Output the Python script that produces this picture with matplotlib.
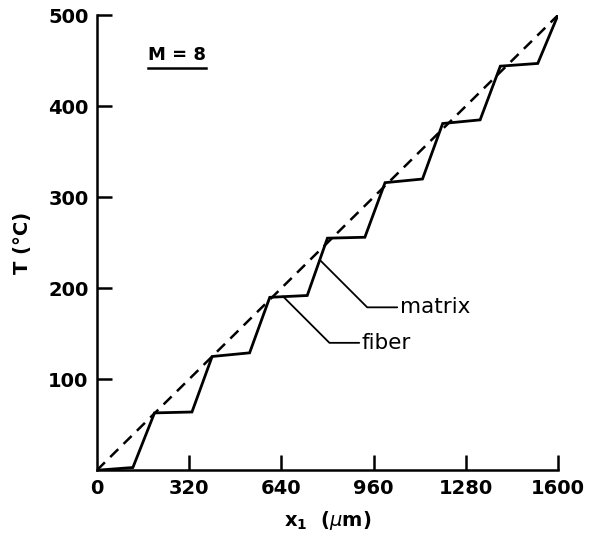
import matplotlib
matplotlib.use("Agg")
import matplotlib.pyplot as plt

# staircase temperature profile, M = 8
x_pos = [0, 125, 200, 330, 400, 530, 600, 730, 800, 930, 1000, 1130, 1200, 1330, 1400, 1530, 1600]
temp = [0, 3, 63, 64, 125, 129, 190, 192, 255, 256, 316, 320, 381, 385, 444, 447, 500]

# linear reference (dashed)
lin_x = [0, 1600]
lin_t = [0, 500]

x_ticks = [0, 320, 640, 960, 1280, 1600]
y_ticks = [100, 200, 300, 400, 500]

plt.rcParams['font.family'] = ['DejaVu Sans']

fig = plt.figure(figsize=(5.98, 5.43), dpi=100)
ax = fig.add_axes([0.162, 0.134, 0.771, 0.838])

ax.plot(lin_x, lin_t, color='black', linewidth=1.8, dashes=(4.5, 3))
ax.plot(x_pos, temp, color='black', linewidth=2.0, solid_joinstyle='miter')

ax.set_xlim(0, 1600)
ax.set_ylim(0, 500)
ax.set_xticks(x_ticks)
ax.set_yticks(y_ticks)
ax.set_xticklabels([str(v) for v in x_ticks])
ax.set_yticklabels([str(v) for v in y_ticks])

for side in ['top', 'right']:
    ax.spines[side].set_visible(False)
for side in ['left', 'bottom']:
    ax.spines[side].set_linewidth(1.8)

ax.tick_params(direction='in', length=11, width=1.8, labelsize=14, pad=6)
ax.xaxis.get_major_ticks()[0].tick1line.set_visible(False)
for lab in ax.get_xticklabels() + ax.get_yticklabels():
    lab.set_fontweight('bold')

ax.set_xlabel("x$_\\mathbf{1}$  ($\\mu$m)", fontsize=14, fontweight='bold', labelpad=8)
ax.set_ylabel("T (°C)", fontsize=14, fontweight='bold', labelpad=12)

# labels with leader lines
leader = dict(arrowstyle='-', color='black', linewidth=1.3, relpos=(0, 0.5),
              shrinkA=0, shrinkB=0,
              connectionstyle='angle,angleA=0,angleB=-45,rad=0')
ax.annotate('matrix', xy=(774, 231), xytext=(1052, 179), fontsize=15.5,
            va='center', ha='left', arrowprops=leader)
ax.annotate('fiber', xy=(646, 191), xytext=(920, 140), fontsize=15.5,
            va='center', ha='left', arrowprops=leader)

mtxt = ax.text(177, 456, 'M = 8', fontsize=13, fontweight='bold', va='center', ha='left')

# underline the M = 8 label
fig.canvas.draw()
bb = mtxt.get_window_extent().transformed(ax.transData.inverted())
ax.plot([bb.x0, bb.x1], [bb.y0 - 4, bb.y0 - 4], color='black', linewidth=1.8, clip_on=False)

fig.savefig('out.png', dpi=100)
